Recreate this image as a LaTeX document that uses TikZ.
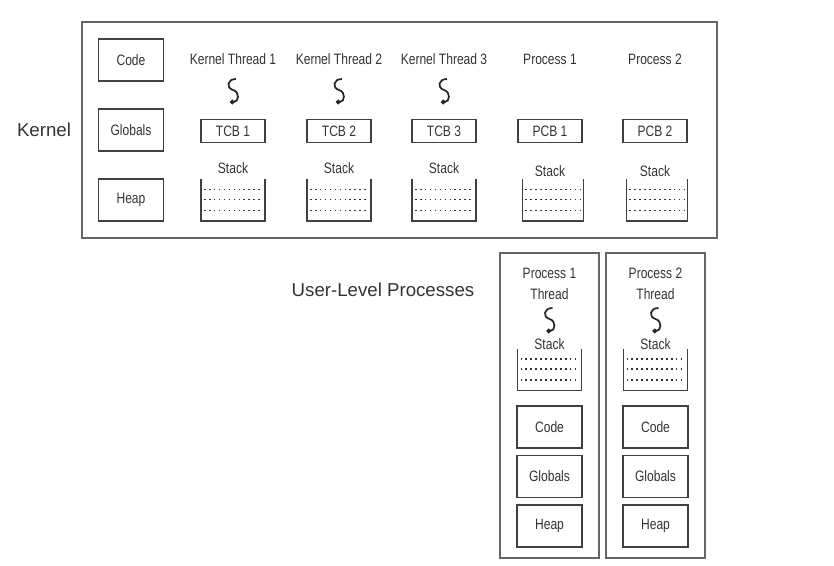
\documentclass[tikz,border=0pt]{standalone}
\usepackage{fontspec}
\setmainfont{Liberation Sans}
\newfontfamily\condfont{Liberation Sans}[FakeStretch=0.8]
\usetikzlibrary{arrows.meta}

\tikzset{
    every picture/.style={x=0.75pt, y=-0.75pt},
    lbl/.style={text=black!80, inner sep=0pt, font=\condfont\fontsize{11.3}{13}\selectfont},
    bigl/.style={text=black!80, inner sep=0pt, font=\fontsize{14}{16}\selectfont},
    seg/.style={draw=black!75, line width=1.2pt, text=black!80, minimum width=48.75pt, minimum height=31.5pt, inner sep=0pt, font=\condfont\fontsize{11.3}{13}\selectfont},
    cb/.style={draw=black!75, line width=1.2pt, text=black!80, minimum width=48pt, minimum height=17.25pt, inner sep=0pt, font=\condfont\fontsize{11.3}{13}\selectfont},
    frame/.style={draw=black!60, line width=1.4pt},
    thread/.style={draw=black!85, line width=1.3pt, -{Circle[length=3.4pt]}},
    stackbin/.pic={
        \draw[black!75, line width=1.2pt] (-32,-21) -- (-32,21) -- (32,21) -- (32,-21);
        \foreach \yy in {-10.5,-0.5,10.5}
            \draw[black!80, line width=1.2pt, dash pattern=on 1.2pt off 2.5pt] (-29,\yy) -- (30,\yy);
    },
    squiggle/.pic={
        \draw[thread] (3,-12) .. controls (-6,-12) and (-7,-3) .. (0,-1)
            .. controls (7,1) and (6,11) .. (-3,11);
    }
}

\begin{document}
\begin{tikzpicture}
    \useasboundingbox (0,0) rectangle (834,566);

    % kernel
    \draw[frame] (82,22) rectangle (717,238);
    \node[bigl] at(44,130)(kernel){Kernel};

    \node[seg] at(131,60)(kcode){Code};
    \node[seg] at(131,130)(kglob){Globals};
    \node[seg] at(131,200)(kheap){Heap};

    \node[lbl] at(233,59)(kt1){Kernel Thread 1};
    \node[lbl] at(339,59)(kt2){Kernel Thread 2};
    \node[lbl] at(444,59)(kt3){Kernel Thread 3};
    \node[lbl] at(550,59)(kp1){Process 1};
    \node[lbl] at(655,59)(kp2){Process 2};

    \pic at(233,91){squiggle};
    \pic at(339,91){squiggle};
    \pic at(444,91){squiggle};

    \node[cb] at(233,131)(tcb1){TCB 1};
    \node[cb] at(339,131)(tcb2){TCB 2};
    \node[cb] at(444,131)(tcb3){TCB 3};
    \node[cb] at(550,131)(pcb1){PCB 1};
    \node[cb] at(655,131)(pcb2){PCB 2};

    \node[lbl] at(233,168)(ks1){Stack};
    \node[lbl] at(339,168)(ks2){Stack};
    \node[lbl] at(444,168)(ks3){Stack};
    \node[lbl] at(550,171)(ks4){Stack};
    \node[lbl] at(655,171)(ks5){Stack};

    \pic at(233,200){stackbin};
    \pic at(339,200){stackbin};
    \pic at(444,200){stackbin};
    \pic[xscale=0.95] at(553,200){stackbin};
    \pic[xscale=0.95] at(657,200){stackbin};

    % user level
    \node[bigl] at(383,290)(user){User-Level Processes};

    \draw[frame] (500,253) rectangle (599,558);
    \draw[frame] (606,253) rectangle (705,558);

    \node[lbl] at(549.5,273)(up1){Process 1};
    \node[lbl] at(549.5,294)(ut1){Thread};
    \node[lbl] at(655.5,273)(up2){Process 2};
    \node[lbl] at(655.5,294)(ut2){Thread};

    \pic at(549.5,320){squiggle};
    \pic at(655.5,320){squiggle};

    \node[lbl] at(549.5,344)(us1){Stack};
    \node[lbl] at(655.5,344)(us2){Stack};
    \pic at(549.5,369.5){stackbin};
    \pic at(655.5,369.5){stackbin};

    \node[seg] at(549.5,427)(ucode1){Code};
    \node[seg] at(549.5,476.5)(uglob1){Globals};
    \node[seg] at(549.5,526)(uheap1){Heap};
    \node[seg] at(655.5,427)(ucode2){Code};
    \node[seg] at(655.5,476.5)(uglob2){Globals};
    \node[seg] at(655.5,526)(uheap2){Heap};
\end{tikzpicture}
\end{document}
